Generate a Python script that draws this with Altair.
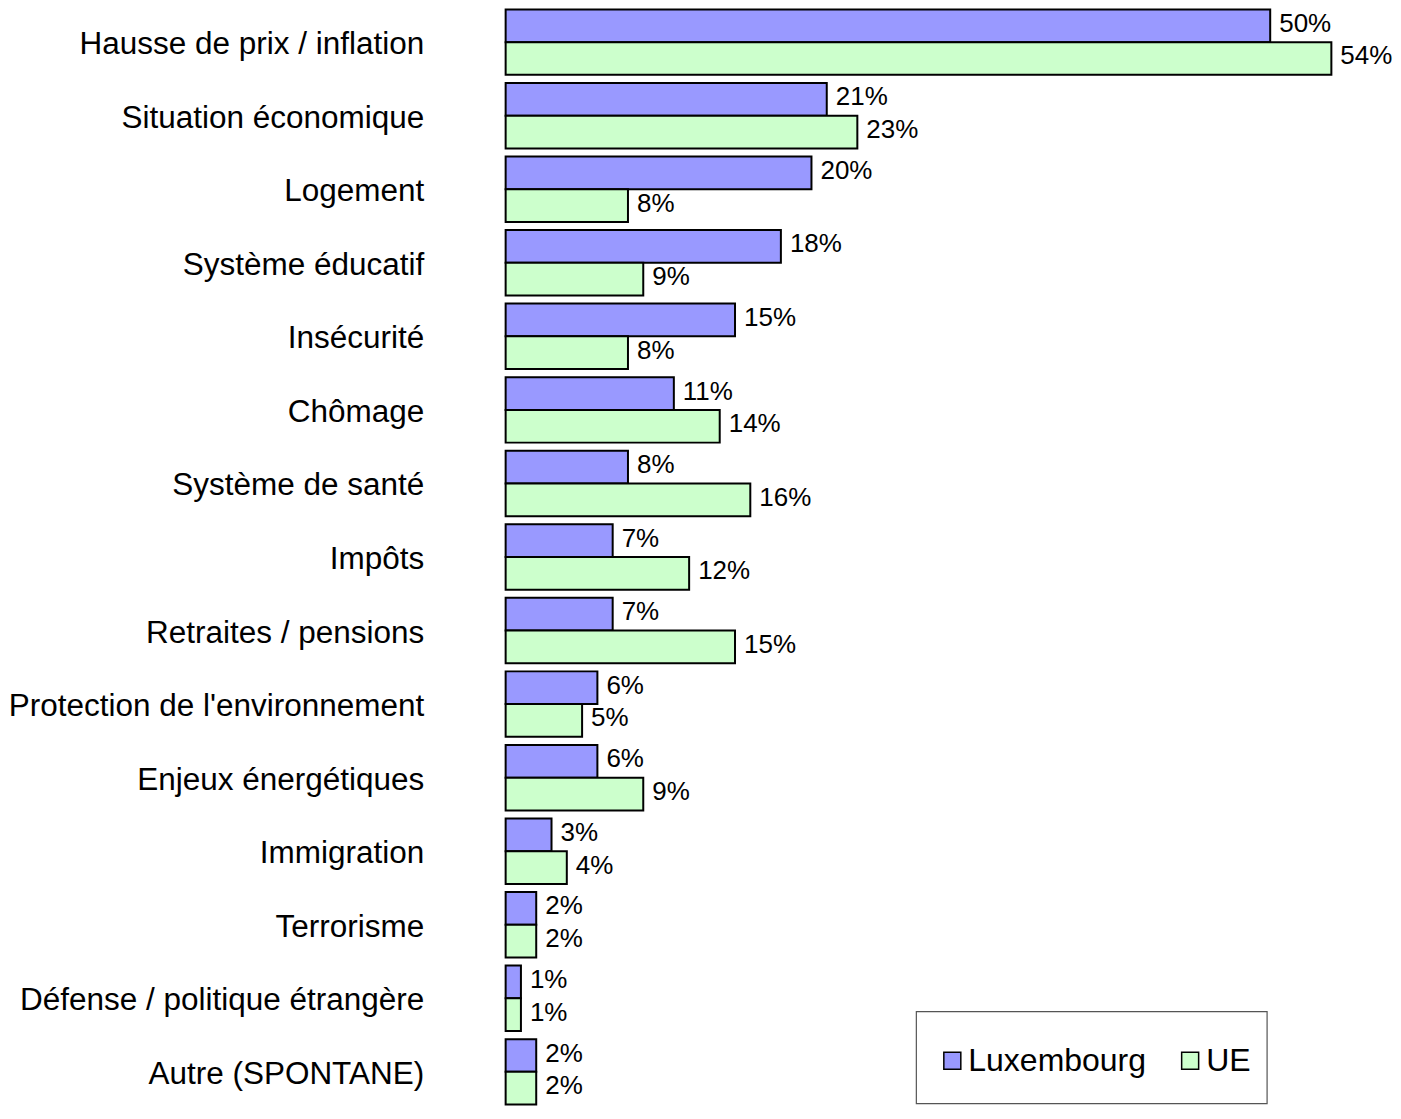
import altair as alt
import pandas as pd

categories = [
    "Hausse de prix / inflation",
    "Situation économique",
    "Logement",
    "Système éducatif",
    "Insécurité",
    "Chômage",
    "Système de santé",
    "Impôts",
    "Retraites / pensions",
    "Protection de l'environnement",
    "Enjeux énergétiques",
    "Immigration",
    "Terrorisme",
    "Défense / politique étrangère",
    "Autre (SPONTANE)",
]
luxembourg = [50, 21, 20, 18, 15, 11, 8, 7, 7, 6, 6, 3, 2, 1, 2]
ue = [54, 23, 8, 9, 8, 14, 16, 12, 15, 5, 9, 4, 2, 1, 2]
series = ["Luxembourg", "UE"]
colors = ["#9999FF", "#CCFFCC"]

rows = []
for c, l, u in zip(categories, luxembourg, ue):
    rows.append({"cat": c, "series": "Luxembourg", "value": l})
    rows.append({"cat": c, "series": "UE", "value": u})
df = pd.DataFrame(rows)
df["label"] = df["value"].astype(str) + "%"

FONT = "Liberation Sans"
W = 886
H = 1096

y_enc = alt.Y(
    "cat:N",
    sort=categories,
    scale=alt.Scale(paddingInner=0.11, paddingOuter=0.0),
    axis=alt.Axis(
        title=None, domain=False, ticks=False, labelFontSize=31.5, labelFont=FONT,
        labelColor="black", labelPadding=82, minExtent=498, maxExtent=498,
        labelLimit=600, labelAlign="right", labelBaseline="middle", labelOffset=3,
    ),
)
yoff = alt.YOffset("series:N", sort=series, scale=alt.Scale(paddingInner=0, paddingOuter=0))
x_enc = alt.X("value:Q", scale=alt.Scale(domain=[0, 57.9], nice=False, zero=True), axis=None)

base = alt.Chart(df)

bars = base.mark_bar(stroke="black", strokeWidth=2).encode(
    y=y_enc,
    yOffset=yoff,
    x=x_enc,
    color=alt.Color(
        "series:N",
        scale=alt.Scale(domain=series, range=colors),
        legend=alt.Legend(
            title=None, orient="none", legendX=431, legendY=1036, direction="horizontal",
            symbolType="square", symbolSize=289, symbolStrokeColor="black",
            symbolStrokeWidth=1.5, labelFontSize=32, labelFont=FONT, labelColor="black",
            columnPadding=28, labelOffset=0, padding=0, labelLimit=400,
        ),
    ),
)

texts = base.mark_text(align="left", baseline="middle", dx=9, dy=-2,
                       fontSize=26, font=FONT, color="black").encode(
    y=alt.Y("cat:N", sort=categories),
    yOffset=alt.YOffset("series:N", sort=series),
    x=alt.X("value:Q"),
    text="label:N",
)

box = alt.Chart(alt.Data(values=[{"a": 1}])).mark_rect(
    fill="white", stroke="#555555", strokeWidth=1.2
).encode(
    x=alt.value(411), x2=alt.value(762), y=alt.value(1003), y2=alt.value(1095)
)

chart = alt.layer(box, bars, texts).properties(
    width=W, height=H, padding=0
).configure_view(stroke=None)

chart.save("out.html", embed_options={"renderer": "svg", "actions": False})
